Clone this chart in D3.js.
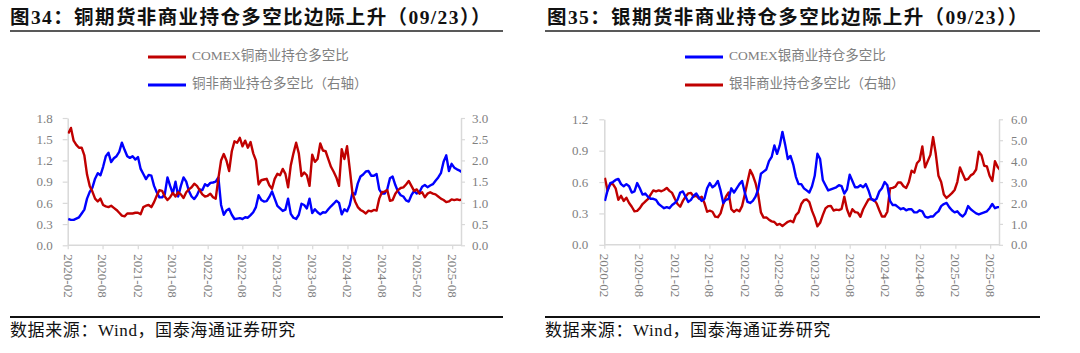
<!DOCTYPE html>
<html>
<head>
<meta charset="utf-8">
<script src="https://cdn.jsdelivr.net/npm/d3@7"></script>
<style>
body { margin: 0; background: #fff; }
svg { display: block; font-family: "Liberation Serif", "Noto Sans CJK SC", serif; }
</style>
</head>
<body>
<div id="chart"></div>
<script>
// weekly CFTC report dates, sampled every two weeks
const dates = [
  "2020-02-04","2020-02-18","2020-03-03","2020-03-17","2020-03-31","2020-04-14","2020-04-28","2020-05-12","2020-05-26","2020-06-09","2020-06-23","2020-07-07","2020-07-21","2020-08-04","2020-08-18","2020-09-01","2020-09-15","2020-09-29","2020-10-13","2020-10-27","2020-11-10","2020-11-24","2020-12-08","2020-12-22",
  "2021-01-05","2021-01-19","2021-02-02","2021-02-16","2021-03-02","2021-03-16","2021-03-30","2021-04-13","2021-04-27","2021-05-11","2021-05-25","2021-06-08","2021-06-22","2021-07-06","2021-07-20","2021-08-03","2021-08-17","2021-08-31","2021-09-14","2021-09-28","2021-10-12","2021-10-26","2021-11-09","2021-11-23","2021-12-07","2021-12-21",
  "2022-01-04","2022-01-18","2022-02-01","2022-02-15","2022-03-01","2022-03-15","2022-03-29","2022-04-12","2022-04-26","2022-05-10","2022-05-24","2022-06-07","2022-06-21","2022-07-05","2022-07-19","2022-08-02","2022-08-16","2022-08-30","2022-09-13","2022-09-27","2022-10-11","2022-10-25","2022-11-08","2022-11-22","2022-12-06","2022-12-20",
  "2023-01-03","2023-01-17","2023-01-31","2023-02-14","2023-02-28","2023-03-14","2023-03-28","2023-04-11","2023-04-25","2023-05-09","2023-05-23","2023-06-06","2023-06-20","2023-07-04","2023-07-18","2023-08-01","2023-08-15","2023-08-29","2023-09-12","2023-09-26","2023-10-10","2023-10-24","2023-11-07","2023-11-21","2023-12-05","2023-12-19",
  "2024-01-02","2024-01-16","2024-01-30","2024-02-13","2024-02-27","2024-03-12","2024-03-26","2024-04-09","2024-04-23","2024-05-07","2024-05-21","2024-06-04","2024-06-18","2024-07-02","2024-07-16","2024-07-30","2024-08-13","2024-08-27","2024-09-10","2024-09-24","2024-10-08","2024-10-22","2024-11-05","2024-11-19","2024-12-03","2024-12-17","2024-12-31",
  "2025-01-14","2025-01-28","2025-02-11","2025-02-25","2025-03-11","2025-03-25","2025-04-08","2025-04-22","2025-05-06","2025-05-20","2025-06-03","2025-06-17","2025-07-01","2025-07-15","2025-07-29","2025-08-12","2025-08-26","2025-09-09","2025-09-23"
];

// COMEX copper, commercial long/short ratio (left axis)
const cuCommercial = [
  1.58,1.66,1.48,1.42,1.38,1.38,1.27,1.00,0.84,0.76,
  0.66,0.62,0.66,0.57,0.55,0.54,0.56,0.53,0.50,0.46,
  0.42,0.41,0.45,0.45,0.45,0.46,0.46,0.44,0.54,0.56,
  0.57,0.54,0.61,0.70,0.78,0.77,0.69,0.64,0.68,0.74,
  0.69,0.75,0.72,0.67,0.75,0.79,0.82,0.87,0.84,0.78,
  0.72,0.69,0.70,0.73,0.68,0.66,0.95,1.20,1.29,1.20,
  1.05,1.33,1.47,1.45,1.52,1.40,1.48,1.38,1.46,1.30,
  1.20,0.86,0.92,
  0.93,0.94,0.85,0.80,0.94,1.01,0.99,1.08,1.01,0.82,
  1.13,1.30,1.45,1.30,0.98,1.03,0.99,0.84,1.28,1.18,
  1.22,1.44,1.34,1.33,1.22,1.11,1.04,0.96,0.84,1.36,
  1.22,1.40,1.08,0.74,0.62,0.54,0.50,0.48,0.45,0.49,
  0.48,0.50,0.49,0.66,0.75,0.76,0.78,0.63,0.64,0.73,
  0.78,0.81,0.82,0.86,0.91,0.84,0.77,0.79,0.73,0.75,
  0.68,0.73,0.75,0.73,0.72,0.69,0.66,0.64,0.61,0.62,
  0.65,0.64,0.65,0.64,0.65
];

// copper, non-commercial long/short ratio (right axis)
const cuNonCommercial = [
  0.62,0.60,0.60,0.63,0.66,0.75,0.84,1.10,1.26,1.36,
  1.57,1.70,1.65,1.85,2.10,2.18,1.96,2.05,2.10,2.20,
  2.42,2.25,2.10,2.06,2.10,2.02,2.08,1.80,1.68,1.56,
  1.66,1.64,1.40,1.25,1.13,1.13,1.20,1.60,1.40,1.22,
  1.50,1.15,1.40,1.60,1.50,1.28,1.15,1.09,1.18,1.32,
  1.30,1.44,1.40,1.47,1.48,1.50,1.60,0.95,0.72,0.82,
  0.86,0.72,0.62,0.63,0.64,0.62,0.66,0.65,0.71,0.78,
  0.90,1.18,1.07,
  1.03,1.04,1.14,1.27,1.10,0.93,0.87,0.81,0.84,1.10,
  0.74,0.65,0.62,0.72,0.98,0.95,0.87,1.10,0.76,0.85,
  0.78,0.73,0.78,0.77,0.85,0.92,0.98,1.05,1.00,0.73,
  0.85,0.80,0.95,1.24,1.20,1.46,1.62,1.67,1.74,1.75,
  1.64,1.64,1.68,1.32,1.22,1.22,1.32,1.58,1.62,1.42,
  1.27,1.18,1.15,1.06,1.03,1.18,1.28,1.22,1.25,1.38,
  1.42,1.37,1.41,1.44,1.52,1.60,1.70,1.97,2.12,1.75,
  1.92,1.83,1.79,1.76,1.72
];

// COMEX silver, commercial long/short ratio (left axis)
const agCommercial = [
  0.42,0.52,0.59,0.60,0.62,0.63,0.58,0.56,0.58,0.56,
  0.50,0.51,0.59,0.54,0.48,0.49,0.46,0.44,0.44,0.43,
  0.39,0.37,0.35,0.36,0.35,0.38,0.40,0.43,0.50,0.51,
  0.46,0.41,0.43,0.47,0.49,0.45,0.42,0.44,0.54,0.59,
  0.55,0.57,0.61,0.52,0.40,0.43,0.44,0.54,0.50,0.54,
  0.58,0.61,0.50,0.41,0.40,0.42,0.46,0.53,0.68,0.70,
  0.72,0.80,0.84,0.95,0.87,0.95,1.08,0.96,0.82,0.85,
  0.77,0.65,0.58,
  0.58,0.54,0.52,0.50,0.56,0.66,0.87,0.82,0.62,0.57,
  0.52,0.53,0.54,0.55,0.57,0.56,0.49,0.53,0.67,0.61,
  0.55,0.55,0.57,0.55,0.58,0.52,0.44,0.42,0.44,0.51,
  0.54,0.60,0.57,0.42,0.38,0.38,0.36,0.34,0.35,0.33,
  0.34,0.34,0.31,0.31,0.33,0.32,0.27,0.26,0.27,0.27,
  0.30,0.32,0.37,0.39,0.40,0.36,0.33,0.31,0.32,0.29,
  0.27,0.30,0.37,0.34,0.32,0.30,0.29,0.30,0.31,0.32,
  0.35,0.39,0.35,0.36,0.36
];

// silver, non-commercial long/short ratio (right axis)
const agNonCommercial = [
  3.20,2.60,2.90,2.90,2.70,2.15,2.34,2.10,2.25,2.00,
  1.82,1.60,1.62,1.75,1.95,2.07,2.18,2.40,2.60,2.55,
  2.60,2.56,2.62,2.72,2.58,2.48,2.20,1.95,1.82,2.10,
  2.30,2.46,2.48,2.30,2.35,2.20,2.30,2.00,1.58,1.63,
  1.58,1.35,1.32,1.50,1.95,2.30,2.50,1.70,1.57,1.68,
  1.60,1.85,2.40,3.00,3.58,3.32,2.95,2.40,1.55,1.30,
  1.31,1.20,1.12,1.09,0.95,1.00,0.90,1.00,1.10,1.15,
  1.08,1.42,1.55,
  1.95,2.13,2.17,2.04,1.62,1.30,0.88,1.05,1.42,1.74,
  1.85,1.86,1.64,1.68,1.66,1.72,2.30,1.70,1.36,1.70,
  1.56,1.54,1.34,1.70,1.94,2.17,2.19,2.15,1.98,1.65,
  1.35,1.35,1.58,2.70,2.72,2.78,2.98,2.98,2.80,2.72,
  3.00,3.54,3.45,3.90,4.04,4.70,3.70,4.00,4.30,5.15,
  4.35,3.30,3.00,2.40,2.24,2.35,2.47,2.62,3.00,3.70,
  3.40,3.10,3.15,3.32,3.40,3.60,4.45,4.28,3.78,3.75,
  3.30,3.05,4.00,3.72,3.56
];

const xTickLabels = ["2020-02","2020-08","2021-02","2021-08","2022-02","2022-08",
                     "2023-02","2023-08","2024-02","2024-08","2025-02","2025-08"];
const cuLeftTicks = [0, 0.3, 0.6, 0.9, 1.2, 1.5, 1.8];
const cuRightTicks = [0, 0.5, 1.0, 1.5, 2.0, 2.5, 3.0];
const agLeftTicks = [0, 0.3, 0.6, 0.9, 1.2];
const agRightTicks = [0, 1, 2, 3, 4, 5, 6];

const RED = "#c00000";
const BLUE = "#0000ff";
const GREY = "#808080";
const AXIS = "#d9d9d9";

const width = 1080;
const height = 353;
const parseDay = d3.timeParse("%Y-%m-%d");
const parseMonth = d3.timeParse("%Y-%m");
const xDomain = [parseDay("2020-02-01"), parseDay("2025-09-16")];

const panels = [
  {
    left: 10, right: 503, titleX: 10,
    title: "图34：铜期货非商业持仓多空比边际上升（09/23））",
    plot: {l: 67.7, r: 461, t: 118, b: 245.3},
    leftTicks: cuLeftTicks, rightTicks: cuRightTicks,
    leftPad: 10, rightPad: 7,
    legendX: 148,
    series: [
      {name: "COMEX铜商业持仓多空比", values: cuCommercial, color: RED, axis: "left"},
      {name: "铜非商业持仓多空比（右轴）", values: cuNonCommercial, color: BLUE, axis: "right"}
    ]
  },
  {
    left: 545, right: 1040, titleX: 547,
    title: "图35：银期货非商业持仓多空比边际上升（09/23））",
    plot: {l: 604.3, r: 999, t: 119.3, b: 244.8},
    leftTicks: agLeftTicks, rightTicks: agRightTicks,
    leftPad: 11, rightPad: 8,
    legendX: 685,
    series: [
      {name: "COMEX银商业持仓多空比", values: agCommercial, color: BLUE, axis: "left"},
      {name: "银非商业持仓多空比（右轴）", values: agNonCommercial, color: RED, axis: "right"}
    ]
  }
];

const svg = d3.select("#chart")
  .append("svg")
    .attr("width", width)
    .attr("height", height);

svg.append("rect").attr("width", width).attr("height", height).attr("fill", "#fff");

const parsedDates = dates.map(parseDay);

function styleAxis(g) {
  g.select(".domain").attr("stroke", AXIS).attr("stroke-width", 1.5);
  g.selectAll(".tick line").attr("stroke", AXIS).attr("stroke-width", 1.2);
  g.selectAll(".tick text").attr("fill", GREY).style("font-size", "13px")
    .style("font-family", "'Liberation Serif', serif");
}

panels.forEach(function(p, i) {
  const g = svg.append("g");

  // title + rule
  g.append("text")
    .attr("x", p.titleX).attr("y", 24)
    .style("font-size", "19.5px").style("font-weight", "bold")
    .style("letter-spacing", "1.4px")
    .attr("fill", "#111")
    .text(p.title);
  g.append("line")
    .attr("x1", p.left).attr("x2", p.right).attr("y1", 31).attr("y2", 31)
    .attr("stroke", "#222").attr("stroke-width", 1.5);

  // legend
  p.series.forEach(function(s, j) {
    const ly = 57 + j * 28;
    g.append("line")
      .attr("x1", p.legendX).attr("x2", p.legendX + 38)
      .attr("y1", ly).attr("y2", ly)
      .attr("stroke", s.color).attr("stroke-width", 3);
    g.append("text")
      .attr("x", p.legendX + 44).attr("y", ly)
      .attr("dominant-baseline", "middle")
      .attr("fill", GREY)
      .style("font-size", "13.5px")
      .text(s.name);
  });

  const xScale = d3.scaleTime().domain(xDomain).range([p.plot.l, p.plot.r]);
  const yLeft = d3.scaleLinear()
    .domain(d3.extent(p.leftTicks))
    .range([p.plot.b, p.plot.t]);
  const yRight = d3.scaleLinear()
    .domain(d3.extent(p.rightTicks))
    .range([p.plot.b, p.plot.t]);

  // axes
  g.append("g")
    .attr("transform", "translate(" + p.plot.l + ",0)")
    .call(d3.axisLeft(yLeft).tickValues(p.leftTicks).tickFormat(d3.format(".1f"))
      .tickSize(5).tickSizeOuter(0).tickPadding(p.leftPad))
    .call(styleAxis);

  g.append("g")
    .attr("transform", "translate(" + p.plot.r + ",0)")
    .call(d3.axisRight(yRight).tickValues(p.rightTicks).tickFormat(d3.format(".1f"))
      .tickSize(4).tickSizeOuter(0).tickPadding(p.rightPad))
    .call(styleAxis);

  const xAxis = g.append("g")
    .attr("transform", "translate(0," + p.plot.b + ")")
    .call(d3.axisBottom(xScale).tickValues(xTickLabels.map(parseMonth))
      .tickFormat(d3.timeFormat("%Y-%m")).tickSize(4).tickSizeOuter(0))
    .call(styleAxis);
  xAxis.select(".domain").attr("d", "M" + p.plot.l + ",0H" + p.plot.r);
  xAxis.selectAll(".tick text")
    .attr("transform", "rotate(90)")
    .attr("x", 9).attr("y", 0).attr("dy", "0.35em")
    .style("text-anchor", "start");

  // lines
  const clipId = "clip" + i;
  g.append("clipPath").attr("id", clipId)
    .append("rect")
      .attr("x", p.plot.l).attr("y", p.plot.t - 10)
      .attr("width", p.plot.r - p.plot.l).attr("height", p.plot.b - p.plot.t + 10);

  // draw the right-axis series first so the left-axis series sits on top
  p.series.slice().reverse().forEach(function(s) {
    const y = s.axis === "left" ? yLeft : yRight;
    const pts = parsedDates.map((d, k) => [d, s.values[k]]).filter(d => d[1] != null);
    const line = d3.line().x(d => xScale(d[0])).y(d => y(d[1]));
    g.append("path")
      .datum(pts)
      .attr("clip-path", "url(#" + clipId + ")")
      .attr("fill", "none")
      .attr("stroke", s.color)
      .attr("stroke-width", 2.4)
      .attr("stroke-linejoin", "round")
      .attr("d", line);
  });

  // footer
  g.append("line")
    .attr("x1", p.left).attr("x2", p.right).attr("y1", 317).attr("y2", 317)
    .attr("stroke", "#111").attr("stroke-width", 2);
  g.append("text")
    .attr("x", p.left).attr("y", 336)
    .style("font-size", "17px")
    .style("letter-spacing", "0.6px")
    .attr("fill", "#111")
    .text("数据来源：Wind，国泰海通证券研究");
});
</script>
</body>
</html>
